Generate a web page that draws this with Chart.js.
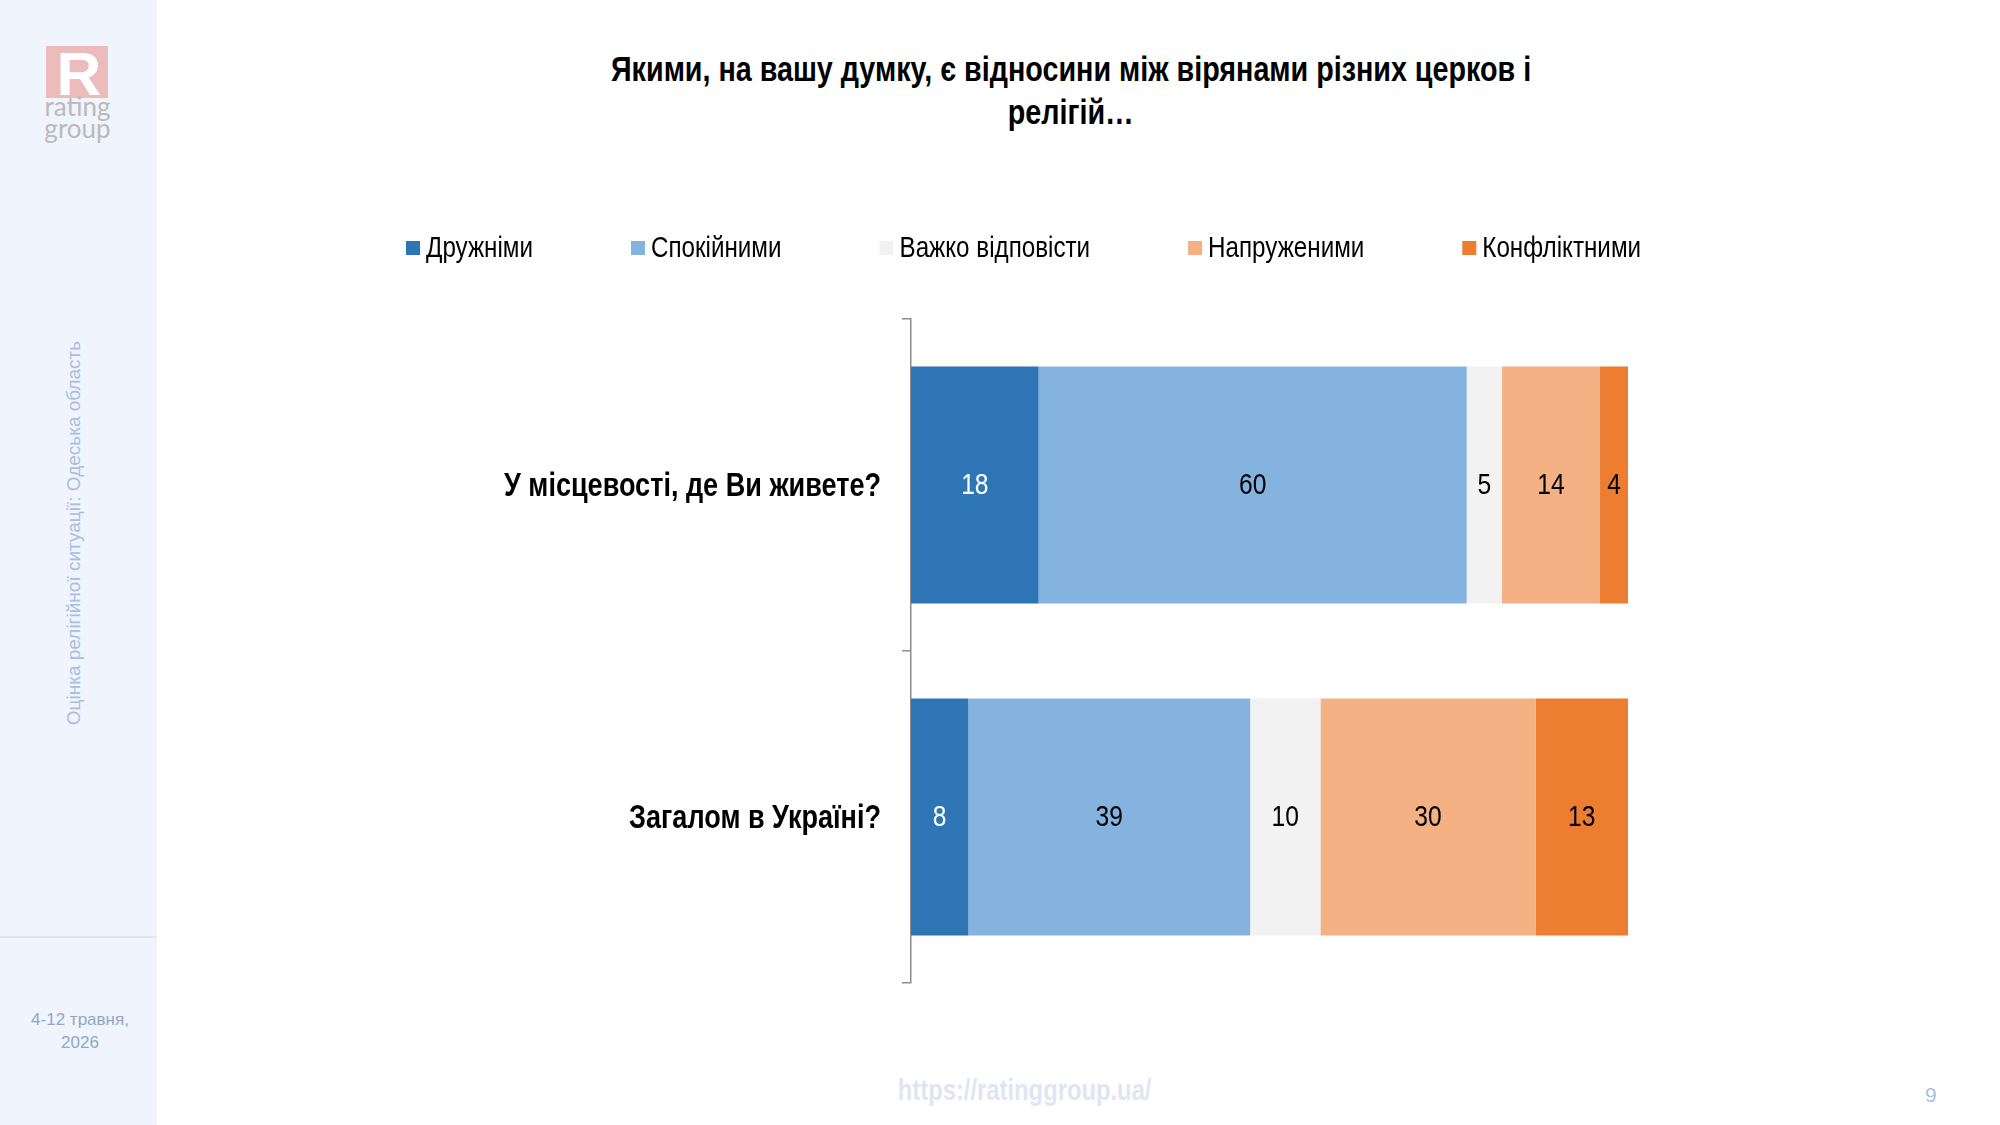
<!DOCTYPE html>
<html>
<head>
<meta charset="utf-8">
<script src="https://cdn.jsdelivr.net/npm/chart.js@4.4.1/dist/chart.umd.min.js"></script>
<style>
  html, body { margin:0; padding:0; width:2000px; height:1125px; background:#fff; overflow:hidden; }
  body { position:relative; font-family: 'Liberation Sans', Arial, sans-serif; }
  #sidebar { position:absolute; left:0; top:0; width:157px; height:1125px; background:#eff4fd; }
  #sep { position:absolute; left:0; top:936px; width:157px; height:2px; background:#dfe5ef; }
  #vtext { position:absolute; left:74px; top:533px; transform:translate(-50%,-50%) rotate(-90deg); white-space:nowrap;
           font-size:19px; color:#a9bde2; }
  #date { position:absolute; left:0; width:160px; top:1008px; text-align:center; font-size:17px; line-height:23px; color:#93a6c8; }
  #logoR { position:absolute; left:46px; top:46px; }
  #logoTxt { position:absolute; left:0; width:155px; top:95px; text-align:center; font-family:'Lato','Liberation Sans',sans-serif;
             font-size:26px; line-height:22px; color:#bababa; }
  .narrow { display:inline-block; transform:scaleX(0.82); white-space:nowrap; }
  #title { position:absolute; left:371px; width:1400px; top:47px; text-align:center; font-weight:bold; font-size:35px; line-height:43px; color:#000; }
  #url { position:absolute; left:825px; width:400px; top:1074px; text-align:center; font-weight:bold; font-size:29px; color:#dfe5f2; }
  #page { position:absolute; left:1925px; top:1083px; font-size:21px; color:#a9bfe3; }
  #wrap { position:absolute; left:0; top:0; width:2000px; height:1125px; }
</style>
</head>
<body>
<div id="sidebar"></div>
<div id="sep"></div>
<svg id="logoR" width="64" height="54" viewBox="0 0 64 54">
  <rect x="0" y="0" width="62" height="52" fill="#ecbcbc"/>
  <text x="33" y="49" text-anchor="middle" font-family="Liberation Sans, Arial, sans-serif" font-weight="bold" font-size="62" fill="#ffffff">R</text>
</svg>
<div id="logoTxt">rating<br>group</div>
<div id="vtext">Оцінка релігійної ситуації: Одеська область</div>
<div id="date">4-12 травня,<br>2026</div>
<div id="title"><span class="narrow">Якими, на вашу думку, є відносини між вірянами різних церков і</span><br><span class="narrow">релігій…</span></div>
<div id="url"><span class="narrow">https://ratinggroup.ua/</span></div>
<div id="page">9</div>
<div id="wrap"><canvas id="c" width="2000" height="1125"></canvas></div>
<script>
const categories = ['У місцевості, де Ви живете?', 'Загалом в Україні?'];
const seriesNames = ['Дружніми', 'Спокійними', 'Важко відповісти', 'Напруженими', 'Конфліктними'];
const friendly   = [17.8, 8.0];
const calm       = [59.7, 39.3];
const hardToSay  = [4.9, 9.8];
const tense      = [13.7, 30.0];
const conflict   = [3.9, 12.9];
const seriesColors = ['#2e75b6', '#85b3e0', '#f2f2f2', '#f4b183', '#ed7d31'];
const labelColors  = ['#ffffff', '#000000', '#000000', '#000000', '#000000'];

const FONT = "'Liberation Sans', Arial, sans-serif";
const SQ = 0.82; // horizontal squeeze to imitate a narrow face
const seriesValues = [friendly, calm, hardToSay, tense, conflict];

function narrowText(ctx, text, x, y) {
  ctx.save();
  ctx.translate(x, y);
  ctx.scale(SQ, 1);
  ctx.fillText(text, 0, 0);
  ctx.restore();
}

const customText = {
  id: 'customText',
  afterDraw(chart) {
    const ctx = chart.ctx;
    ctx.save();
    // category labels on the y scale
    const ys = chart.scales.y;
    ctx.font = 'bold 33px ' + FONT;
    ctx.fillStyle = '#000';
    ctx.textAlign = 'right';
    ctx.textBaseline = 'middle';
    chart.data.labels.forEach((lab, i) => {
      narrowText(ctx, lab, ys.right - 30, ys.getPixelForTick(i) + 2);
    });
    // legend
    ctx.font = '29.5px ' + FONT;
    ctx.textAlign = 'left';
    let x = 406;
    const y = 249;
    chart.data.datasets.forEach((ds, i) => {
      ctx.fillStyle = ds.backgroundColor;
      ctx.fillRect(x, y - 8, 14, 14);
      ctx.fillStyle = '#000';
      narrowText(ctx, ds.label, x + 20, y);
      x += 20 + ctx.measureText(ds.label).width * SQ + 98;
    });
    ctx.restore();
  },
  afterDatasetsDraw(chart) {
    const ctx = chart.ctx;
    ctx.save();
    ctx.font = '30px ' + FONT;
    ctx.textAlign = 'center';
    ctx.textBaseline = 'middle';
    chart.data.datasets.forEach((ds, di) => {
      const meta = chart.getDatasetMeta(di);
      meta.data.forEach((el, i) => {
        ctx.fillStyle = labelColors[di];
        narrowText(ctx, String(Math.round(ds.data[i])), (el.x + el.base) / 2, el.y + 1);
      });
    });
    ctx.restore();
  }
};

new Chart(document.getElementById('c'), {
  type: 'bar',
  data: {
    labels: categories,
    datasets: seriesNames.map((n, i) => ({
      label: n,
      data: seriesValues[i],
      backgroundColor: seriesColors[i],
      borderWidth: 0,
      barPercentage: 0.714,
      categoryPercentage: 1.0
    }))
  },
  options: {
    indexAxis: 'y',
    responsive: false,
    animation: false,
    devicePixelRatio: 1,
    layout: { padding: { left: 157, right: 372, top: 319, bottom: 142 } },
    plugins: { legend: { display: false }, tooltip: { enabled: false }, title: { display: false } },
    scales: {
      x: { stacked: true, min: 0, max: 100, display: false },
      y: {
        stacked: true,
        afterFit: (s) => { s.width = 754; },
        grid: { display: true, drawOnChartArea: false, drawTicks: true, tickLength: 9, color: '#8c8c8c', lineWidth: 1.5, offset: true },
        border: { display: true, color: '#8c8c8c', width: 1.5 },
        ticks: { display: false }
      }
    }
  },
  plugins: [customText]
});
</script>
</body>
</html>
